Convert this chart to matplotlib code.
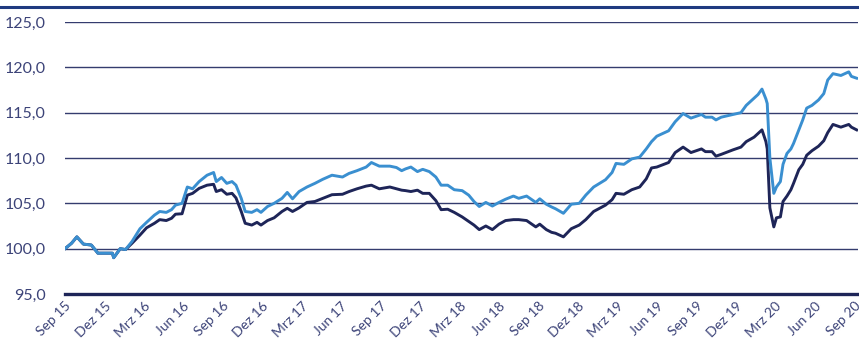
import matplotlib.pyplot as plt
from matplotlib.lines import Line2D

# Zeit in Monaten seit Sep 2015
monate = [
    0.0, 0.5, 0.9, 1.4, 2.0, 2.5, 3.2, 3.6, 3.7, 4.2, 4.6, 5.1, 5.7, 6.2, 6.8,
    7.2, 7.7, 8.1, 8.4, 8.9, 9.3, 9.7, 10.2, 10.8, 11.3, 11.5, 11.9, 12.3, 12.7,
    13.0, 13.4, 13.7, 14.2, 14.6, 14.9, 15.4, 15.9, 16.5, 16.9, 17.3, 17.8, 18.4,
    19.0, 19.6, 20.3, 21.1, 21.6, 22.2, 22.9, 23.3, 23.9, 24.7, 25.2, 25.6, 25.9,
    26.3, 26.8, 27.2, 27.7, 28.2, 28.6, 29.1, 29.6, 30.2, 30.7, 31.1, 31.5, 32.0,
    32.5, 33.0, 33.5, 34.1, 34.5, 35.1, 35.8, 36.1, 36.6, 37.0, 37.3, 37.9, 38.5,
    39.1, 39.6, 40.2, 41.1, 41.6, 41.9, 42.5, 43.1, 43.7, 44.2, 44.6, 45.0, 45.9,
    46.4, 47.0, 47.6, 48.4, 48.7, 49.2, 49.5, 49.9, 50.8, 51.4, 51.8, 52.4, 52.7,
    53.0, 53.3, 53.4, 53.6, 53.9, 54.1, 54.4, 54.6, 54.9, 55.2, 55.4, 55.8, 56.1,
    56.4, 56.8, 57.3, 57.7, 58.0, 58.4, 59.0, 59.6, 59.8, 60.2,
]

serie_hell = [
    100.0, 100.6, 101.3, 100.5, 100.4, 99.5, 99.5, 99.5, 99.0, 100.0, 99.9, 100.8,
    102.2, 102.9, 103.7, 104.1, 104.0, 104.3, 104.8, 105.0, 106.8, 106.6, 107.4,
    108.1, 108.4, 107.4, 107.85, 107.2, 107.4, 107.0, 105.55, 104.1, 104.0, 104.3,
    104.0, 104.65, 105.0, 105.55, 106.2, 105.5, 106.3, 106.8, 107.2, 107.65, 108.1,
    107.9, 108.3, 108.6, 109.0, 109.5, 109.1, 109.1, 108.95, 108.6, 108.8, 109.0,
    108.5, 108.75, 108.5, 107.9, 107.0, 107.0, 106.5, 106.4, 105.9, 105.2, 104.65,
    105.1, 104.7, 105.1, 105.45, 105.8, 105.55, 105.8, 105.1, 105.5, 104.9, 104.6,
    104.4, 103.9, 104.9, 105.0, 105.9, 106.8, 107.6, 108.4, 109.4, 109.3, 109.9,
    110.1, 111.0, 111.8, 112.4, 113.0, 114.0, 114.9, 114.4, 114.8, 114.5, 114.5,
    114.2, 114.5, 114.8, 115.0, 115.8, 116.6, 117.0, 117.6, 116.5, 116.0, 110.0,
    106.1, 106.8, 107.4, 109.3, 110.5, 111.0, 111.6, 113.1, 114.2, 115.5, 115.8,
    116.4, 117.1, 118.6, 119.3, 119.1, 119.5, 119.0, 118.8,
]

serie_dunkel = [
    100.0, 100.6, 101.3, 100.5, 100.4, 99.5, 99.5, 99.5, 99.0, 100.0, 99.9, 100.6,
    101.5, 102.3, 102.8, 103.2, 103.1, 103.35, 103.8, 103.85, 105.9, 106.1, 106.65,
    107.0, 107.1, 106.3, 106.5, 106.0, 106.1, 105.6, 104.1, 102.8, 102.6, 102.9,
    102.6, 103.1, 103.4, 104.1, 104.45, 104.1, 104.5, 105.1, 105.2, 105.55, 105.95,
    106.0, 106.3, 106.6, 106.9, 107.0, 106.6, 106.8, 106.6, 106.45, 106.4, 106.3,
    106.45, 106.1, 106.1, 105.3, 104.3, 104.35, 104.0, 103.5, 103.0, 102.6, 102.1,
    102.5, 102.1, 102.7, 103.1, 103.2, 103.2, 103.1, 102.4, 102.7, 102.1, 101.8,
    101.7, 101.3, 102.2, 102.6, 103.2, 104.1, 104.8, 105.4, 106.1, 106.0, 106.5,
    106.8, 107.7, 108.9, 109.0, 109.5, 110.6, 111.2, 110.6, 111.0, 110.7, 110.7,
    110.2, 110.4, 110.9, 111.2, 111.8, 112.3, 112.7, 113.1, 111.8, 111.0, 104.5,
    102.4, 103.4, 103.5, 105.2, 105.8, 106.5, 107.2, 108.7, 109.3, 110.3, 110.8,
    111.3, 111.9, 112.8, 113.7, 113.4, 113.7, 113.4, 113.1,
]

tick_monate = [0, 3, 6, 9, 12, 15, 18, 21, 24, 27, 30, 33, 36, 39, 42, 45, 48,
               51, 54, 57, 60]
tick_labels = ["Sep 15", "Dez 15", "Mrz 16", "Jun 16", "Sep 16", "Dez 16",
               "Mrz 17", "Jun 17", "Sep 17", "Dez 17", "Mrz 18", "Jun 18",
               "Sep 18", "Dez 18", "Mrz 19", "Jun 19", "Sep 19", "Dez 19",
               "Mrz 20", "Jun 20", "Sep 20"]
y_ticks = [95, 100, 105, 110, 115, 120, 125]

# -----------------------------
# FARBEN
# -----------------------------
hellblau = "#3a8fd0"
dunkelblau = "#1e2558"
gitter = "#343c6e"
text_farbe = "#3c4378"

plt.rcParams["font.family"] = ["Lato", "DejaVu Sans"]

fig = plt.figure(figsize=(8.59, 3.42), dpi=100)
ax = fig.add_axes([0.0757, 0.1404, 0.9231, 0.7953])

for y in y_ticks[1:]:
    ax.axhline(y, color=gitter, lw=1.0, zorder=1)
ax.axhline(95, color=dunkelblau, lw=2.4, zorder=3, clip_on=False)

ax.plot(monate, serie_dunkel, color=dunkelblau, lw=2.1, zorder=4,
        solid_joinstyle="round")
ax.plot(monate, serie_hell, color=hellblau, lw=2.1, zorder=5,
        solid_joinstyle="round")

ax.set_xlim(0, 60.3)
ax.set_ylim(95, 125)
ax.set_yticks(y_ticks)
ax.set_yticklabels([f"{v:.1f}".replace(".", ",") for v in y_ticks])
ax.set_xticks(tick_monate)
ax.set_xticklabels(tick_labels, rotation=45, ha="right",
                   rotation_mode="anchor")
ax.tick_params(axis="both", length=0, colors=text_farbe)
ax.tick_params(axis="y", pad=14, labelsize=11.5)
ax.tick_params(axis="x", pad=4, labelsize=10)
for s in ax.spines.values():
    s.set_visible(False)

# Linie am oberen Rand
fig.add_artist(Line2D([0, 1], [0.9795, 0.9795], color="#1f3a80", lw=2.2,
                      transform=fig.transFigure))

fig.savefig("out.png", dpi=100)
